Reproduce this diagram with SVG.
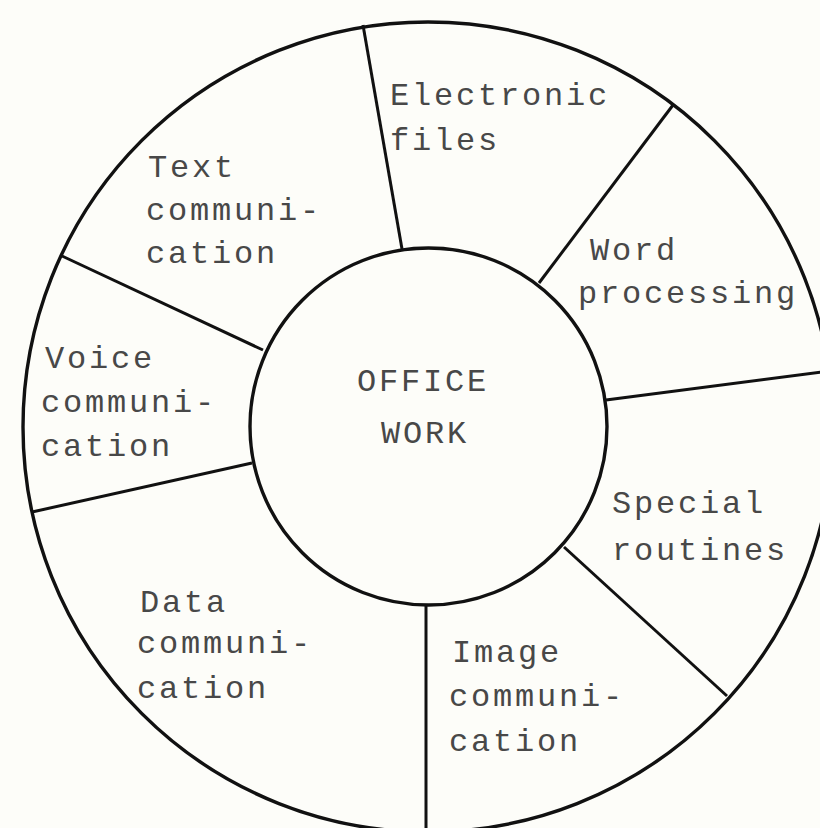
<svg xmlns="http://www.w3.org/2000/svg" width="820" height="828" viewBox="0 0 820 828">
<style>
.ring{fill:none;stroke:#111;stroke-width:3.4}
.div{stroke:#111;stroke-width:3;fill:none}
.lbl{font-family:"Liberation Mono","Courier New",monospace;font-size:32px;letter-spacing:2.8px;fill:#484848}
</style>
<rect x="0" y="0" width="820" height="828" fill="#fdfdf9"/>
<g id="outer"><circle class="ring" cx="428" cy="427" r="405"/></g>
<g id="connectors">
<line class="div" x1="363" y1="25" x2="402" y2="249"/>
<line class="div" x1="673" y1="105" x2="539" y2="283"/>
<line class="div" x1="606" y1="400" x2="830" y2="371"/>
<line class="div" x1="564" y1="547" x2="727" y2="696"/>
<line class="div" x1="426" y1="605" x2="426" y2="832"/>
<line class="div" x1="252" y1="463" x2="32" y2="512"/>
<line class="div" x1="263" y1="350" x2="62" y2="256"/>
</g>
<g id="center"><circle class="ring" cx="428.5" cy="426.5" r="178.5"/>
<text class="lbl" x="423" y="391" text-anchor="middle">OFFICE</text>
<text class="lbl" x="425" y="443" text-anchor="middle">WORK</text></g>
<g id="electronic"><text class="lbl" x="390" y="105">Electronic</text><text class="lbl" x="390" y="150">files</text></g>
<g id="text"><text class="lbl" x="148" y="177">Text</text><text class="lbl" x="146" y="220">communi-</text><text class="lbl" x="146" y="263">cation</text></g>
<g id="word"><text class="lbl" x="590" y="260">Word</text><text class="lbl" x="578" y="303">processing</text></g>
<g id="voice"><text class="lbl" x="45" y="368">Voice</text><text class="lbl" x="41" y="412">communi-</text><text class="lbl" x="41" y="456">cation</text></g>
<g id="special"><text class="lbl" x="612" y="513">Special</text><text class="lbl" x="612" y="560">routines</text></g>
<g id="data"><text class="lbl" x="140" y="612">Data</text><text class="lbl" x="137" y="653">communi-</text><text class="lbl" x="137" y="698">cation</text></g>
<g id="image"><text class="lbl" x="452" y="662">Image</text><text class="lbl" x="449" y="706">communi-</text><text class="lbl" x="449" y="751">cation</text></g>
</svg>
